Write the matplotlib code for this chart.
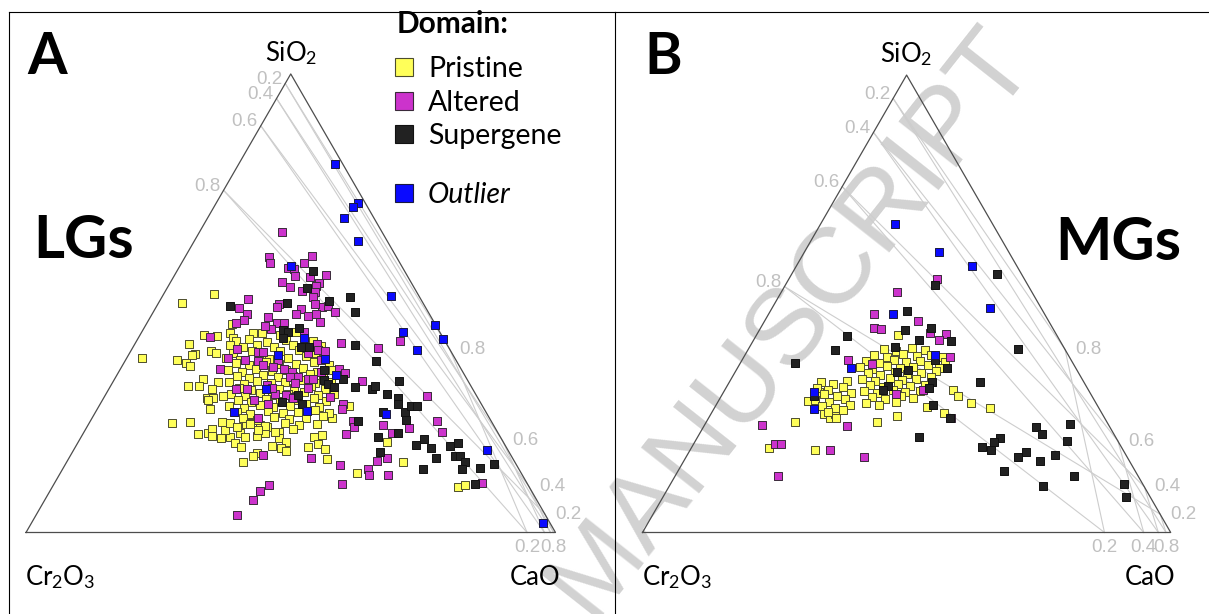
import numpy as np
import matplotlib
matplotlib.use("Agg")
import matplotlib.pyplot as plt
from matplotlib.lines import Line2D

# Positions in the scaled ternary (SiO2, CaO*6, Cr2O3*k), in % of the plotted triangle.
# Cr2O3 share = 100 - SiO2 - CaO.

# ---- A: LGs ----
lg_pristine_sio2 = [38.1, 50.0, 52.0, 23.9, 24.1, 21.5, 21.7, 22.6, 21.0, 20.6, 20.8, 19.5, 18.6, 21.7, 20.8, 17.3,
                    15.4, 37.6, 37.0, 36.3, 41.1, 38.9, 38.7, 39.6, 39.1, 43.1, 42.9, 45.5, 43.5, 42.4, 43.5, 33.5,
                    32.8, 31.9, 31.9, 31.3, 29.3, 29.3, 29.8, 28.9, 26.9, 21.9, 20.6, 19.7, 18.9, 18.4, 17.8, 20.8,
                    21.3, 18.6, 19.3, 18.2, 16.0, 25.0, 27.6, 13.0, 19.7, 15.4, 9.9, 10.4, 24.1, 22.4, 23.9, 23.0,
                    23.7, 25.6, 23.4, 23.0, 21.0, 21.7, 16.7,
                    43.5, 43.0, 43.7,
                    41.8, 42.2, 41.6, 42.0, 42.4, 41.7,
                    40.9, 40.4, 40.8, 40.5, 40.9, 40.3, 40.7,
                    39.2, 39.6, 39.0, 39.5, 39.9, 39.2,
                    38.1, 37.7, 38.4, 37.9, 38.1, 38.5, 37.8,
                    36.9, 36.5, 37.1, 36.7, 36.8, 37.2, 36.5,
                    35.4, 35.0, 35.6, 35.2, 35.4, 35.8, 35.1, 35.5,
                    34.1, 33.7, 34.3, 33.9, 34.1, 34.5, 33.8,
                    32.8, 32.4, 33.0, 32.6, 32.8, 33.3, 32.5, 32.9,
                    31.5, 31.1, 31.7, 31.3, 31.5, 31.9, 31.3,
                    30.2, 29.8, 30.4, 30.0, 30.2, 30.7, 29.9, 30.3,
                    28.9, 28.5, 29.1, 28.7, 28.9, 29.4, 28.7,
                    27.6, 27.2, 27.8, 27.4, 27.6, 28.0, 27.3,
                    26.3, 25.9, 26.5, 26.1, 26.3, 26.7, 26.0,
                    25.0, 24.6, 25.2, 24.8, 25.0, 25.4,
                    23.7, 23.2, 23.9, 23.4, 23.7,
                    22.4, 21.9, 22.6]
lg_pristine_cao = [2.9, 4.4, 9.5, 15.6, 18.9, 21.7, 23.5, 23.8, 24.6, 26.5, 28.1, 29.7, 31.3, 29.6, 30.9, 35.0,
                   33.3, 9.7, 11.7, 12.8, 10.2, 12.5, 12.0, 15.1, 16.3, 12.1, 14.6, 16.2, 16.8, 17.9, 21.1, 16.7,
                   19.9, 14.6, 16.7, 19.5, 19.5, 20.7, 22.3, 19.9, 21.3, 36.8, 37.5, 39.2, 37.0, 38.9, 40.2, 44.0,
                   45.3, 43.9, 45.5, 47.4, 48.8, 45.3, 47.2, 56.0, 58.3, 63.5, 76.6, 77.7, 25.0, 26.4, 26.6, 28.3,
                   29.7, 29.5, 32.5, 34.0, 33.1, 34.3, 34.5,
                   22.8, 26.4, 29.2,
                   18.7, 21.1, 24.7, 28.1, 31.3, 33.4,
                   18.0, 20.8, 23.3, 26.5, 29.9, 33.1, 35.4,
                   19.4, 22.8, 25.1, 28.3, 31.7, 34.9,
                   18.7, 21.6, 24.8, 27.0, 30.4, 33.6, 37.2,
                   21.3, 23.8, 26.8, 29.4, 32.5, 35.7, 38.9,
                   20.5, 23.3, 25.7, 28.8, 31.4, 34.4, 37.5, 40.3,
                   22.8, 25.3, 27.7, 30.7, 33.4, 36.4, 39.2,
                   21.9, 25.0, 27.2, 29.9, 32.5, 35.3, 38.4, 41.2,
                   24.5, 26.9, 29.6, 32.2, 34.9, 37.9, 40.9,
                   23.6, 26.4, 28.9, 31.5, 34.4, 37.2, 40.2, 43.1,
                   25.6, 28.2, 30.7, 33.7, 36.5, 39.6, 42.4,
                   24.5, 27.6, 30.2, 33.0, 36.1, 38.9, 41.7,
                   26.7, 29.3, 32.4, 35.4, 38.2, 41.2, 44.3,
                   28.5, 31.3, 34.3, 37.2, 40.4, 43.4,
                   30.5, 33.5, 36.9, 39.9, 43.1,
                   32.6, 36.0, 39.2]
lg_altered_sio2 = [65.5, 60.1, 58.8, 60.3, 58.8, 57.7, 57.5, 55.9, 55.7, 56.2, 54.6, 53.5, 54.4, 53.8, 52.7, 52.4,
                   51.4, 49.2, 49.4, 49.8, 48.1, 49.8, 49.2, 48.7, 47.6, 47.2, 47.6, 45.9, 47.0, 45.7, 45.7, 44.4,
                   43.7, 41.1, 39.8, 39.6, 39.1, 37.6, 41.3, 40.2, 35.0, 35.7, 34.8, 33.0, 33.5, 33.5, 31.5, 29.5,
                   29.5, 50.9, 49.0, 47.6, 46.3, 45.7, 45.0, 42.6, 38.1, 35.7, 40.0, 39.4, 39.4, 31.3, 31.3, 37.6,
                   35.7, 35.0, 33.9, 36.1, 33.9, 32.6, 30.2, 30.0, 25.0, 29.3, 28.0, 28.0, 26.9, 24.3, 23.0, 23.4,
                   21.7, 21.5, 16.9, 16.2, 14.7, 13.8, 12.5, 12.5, 10.6, 10.4, 9.1, 7.1, 3.8, 15.6, 16.2, 41.8,
                   29.8, 24.3, 22.8, 21.9, 10.8, 37.6, 37.4, 36.5, 32.2, 28.9, 31.5]
lg_altered_cao = [15.6, 15.9, 16.7, 23.9, 23.1, 20.6, 21.9, 22.8, 25.8, 28.6, 21.0, 23.1, 28.1, 27.9, 25.8, 28.4,
                  28.5, 31.3, 32.3, 29.7, 34.3, 22.9, 22.8, 27.6, 27.2, 29.7, 30.9, 32.6, 22.2, 24.6, 25.9, 24.1,
                  30.6, 34.4, 35.2, 36.7, 33.7, 36.9, 38.8, 46.4, 38.2, 41.3, 42.9, 46.9, 36.5, 37.5, 37.5, 42.6,
                  35.5, 16.5, 15.7, 17.9, 18.0, 16.8, 22.6, 13.4, 19.1, 18.8, 19.8, 24.1, 25.1, 24.0, 26.1, 28.8,
                  30.9, 32.7, 32.9, 28.6, 34.4, 34.5, 31.9, 34.1, 31.3, 35.8, 31.7, 45.9, 46.2, 49.6, 50.4, 55.7,
                  58.3, 49.7, 36.3, 45.7, 51.9, 57.7, 58.5, 62.1, 54.4, 40.7, 39.7, 39.3, 37.9, 58.5, 60.1, 49.8,
                  60.8, 65.5, 60.9, 67.6, 80.7, 22.6, 25.1, 26.5, 29.4, 28.6, 30.7]
lg_supergene_sio2 = [49.4, 57.0, 53.3, 50.5, 50.0, 51.4, 48.1, 44.2, 43.7, 44.6, 42.4, 40.5, 40.5, 40.9, 37.4,
                     35.4, 33.5, 33.3, 32.4, 31.7, 31.7, 31.3, 31.9, 30.2, 33.0, 30.0, 28.5, 28.0, 24.3, 26.3,
                     29.3, 28.0, 26.3, 24.5, 27.6, 27.6, 20.8, 21.7, 17.6, 20.4, 19.1, 18.4, 18.9, 19.5, 16.7,
                     16.7, 15.4, 16.2, 13.8, 13.8, 14.1, 14.9, 10.6]
lg_supergene_cao = [13.8, 25.7, 26.4, 32.0, 24.3, 35.5, 38.1, 26.5, 27.6, 29.3, 27.3, 31.7, 33.2, 41.7, 47.4,
                    38.6, 43.1, 39.7, 40.8, 42.3, 46.3, 49.7, 49.9, 53.1, 53.9, 36.4, 34.1, 38.1, 50.5, 54.3,
                    55.6, 56.2, 58.4, 59.5, 58.9, 60.1, 56.1, 59.4, 58.1, 65.0, 64.1, 67.3, 70.6, 71.8, 72.7,
                    73.6, 75.2, 69.3, 68.1, 75.4, 78.7, 80.9, 79.5]
lg_outlier_sio2 = [80.4, 71.9, 71.0, 68.6, 63.6, 51.6, 43.7, 39.8, 45.3, 42.2, 58.1,
                   42.4, 38.7, 37.8, 34.3, 31.3, 26.3, 26.5, 25.8, 18.0, 2.1]
lg_outlier_cao = [18.2, 26.8, 26.3, 25.8, 30.9, 43.1, 49.3, 53.9, 54.6, 57.7, 21.0,
                  31.3, 28.2, 37.6, 41.4, 29.7, 26.1, 39.8, 55.1, 78.1, 96.6]

# ---- B: MGs ----
mg_pristine_sio2 = [18.5, 18.0, 24.2, 28.7, 30.7, 25.9, 25.0, 25.9, 24.2, 25.5, 27.4, 26.1, 31.2, 29.8, 28.3, 27.2, 43.2,
                    40.1, 39.7, 40.3, 39.9,
                    38.8, 38.4, 39.0, 38.6, 38.8, 38.4,
                    37.5, 37.1, 37.7, 37.3, 37.5, 37.9, 37.2,
                    36.2, 35.8, 36.4, 36.0, 36.2, 36.6, 35.9,
                    34.9, 34.5, 35.1, 34.7, 34.9, 35.3,
                    33.6, 33.2, 33.8, 33.4, 33.6, 34.0,
                    32.2, 31.8, 32.4, 32.0, 32.2,
                    30.9, 30.5, 31.1, 30.7, 30.9,
                    29.6, 29.2, 29.8, 29.4,
                    28.3, 27.9, 28.5,
                    32.9, 32.5, 33.1, 31.6, 31.2, 31.8, 30.3, 29.9, 30.5,
                    29.0, 28.6, 29.2, 27.7, 27.3, 27.9, 26.3, 26.7, 25.0]
mg_pristine_cao = [14.7, 23.6, 16.8, 17.0, 18.1, 21.4, 23.0, 23.5, 32.3, 35.4, 40.1, 44.0, 43.2, 44.8, 48.0, 52.2, 26.8,
                   25.7, 28.1, 30.8, 33.6,
                   24.4, 27.1, 29.9, 32.6, 35.2, 37.5,
                   23.6, 26.2, 28.7, 31.3, 33.8, 36.4, 38.7,
                   23.1, 25.5, 28.0, 30.7, 33.1, 35.8, 38.2,
                   25.2, 27.7, 30.2, 32.8, 35.3, 37.9,
                   24.8, 27.4, 29.9, 32.5, 35.0, 37.6,
                   27.0, 29.6, 32.1, 34.7, 37.4,
                   26.5, 29.1, 31.8, 34.4, 37.1,
                   28.7, 31.3, 34.0, 36.6,
                   28.2, 30.8, 33.7,
                   17.3, 19.8, 22.1, 17.2, 19.5, 22.0, 19.2, 21.9, 24.3,
                   18.2, 21.0, 23.8, 20.1, 22.8, 25.4, 22.0, 24.6, 24.1]
mg_altered_sio2 = [55.4, 52.6, 47.8, 46.2, 44.7, 44.5, 43.4, 42.1, 43.6, 38.4, 37.7,
                   36.8, 31.2, 30.3, 25.0, 23.3, 23.5, 19.3, 19.3, 18.0, 16.5, 12.4]
mg_altered_cao = [28.0, 21.9, 19.9, 29.0, 21.5, 22.9, 35.8, 35.1, 32.6, 39.0, 20.1,
                  25.0, 37.5, 32.9, 45.9, 27.1, 10.9, 15.4, 16.5, 26.5, 33.7, 19.5]
mg_supergene_sio2 = [56.5, 54.1, 48.4, 44.7, 44.3, 43.0, 41.9, 39.9, 37.1, 40.6, 42.1, 32.9, 40.1, 36.0,
                     37.7, 35.1, 35.5, 32.9, 31.6, 32.0, 31.2, 29.8, 27.9, 25.0, 20.9, 23.1, 21.5, 23.7,
                     20.0, 20.7, 19.8, 18.7, 18.0, 17.6, 16.5, 16.9, 15.6, 13.4, 12.4, 10.2, 10.6, 7.8]
mg_supergene_cao = [38.9, 28.3, 25.9, 32.3, 27.6, 17.2, 37.5, 16.5, 10.3, 27.5, 31.3, 47.4, 51.0, 39.7,
                    36.5, 30.6, 32.5, 38.4, 38.4, 30.5, 30.0, 17.5, 41.1, 45.7, 41.9, 63.0, 64.9, 69.1,
                    70.4, 57.4, 56.7, 54.9, 57.0, 63.8, 62.8, 69.6, 67.4, 61.7, 75.5, 70.7, 85.9, 87.7]
mg_outlier_sio2 = [67.4, 61.3, 58.3, 49.1, 47.8, 38.8, 36.0, 30.7, 27.0]
mg_outlier_cao = [14.1, 25.5, 33.3, 41.3, 23.5, 36.0, 21.5, 17.1, 19.0]

TICKS = [0.2, 0.4, 0.6, 0.8]
BOTTOM_TICKS_A = [0.2, 0.8]
BOTTOM_TICKS_B = [0.2, 0.4, 0.8]
# component weights of the scaled ternary: SiO2, CaO, Cr2O3
WEIGHTS_A = (1.0, 6.0, 0.085)
WEIGHTS_B = (1.0, 6.0, 0.215)
DOMAINS = ['Pristine', 'Altered', 'Supergene', 'Outlier']

FIG_W, FIG_H = 1209, 614
BASE = 532.5
H3 = np.sqrt(3) / 2

plt.rcParams['font.family'] = ['Lato', 'DejaVu Sans']
plt.rcParams['mathtext.fontset'] = 'custom'
plt.rcParams['mathtext.rm'] = 'Lato'
plt.rcParams['mathtext.it'] = 'Lato:italic'
plt.rcParams['mathtext.bf'] = 'Lato:bold'

STYLES = {
    'Pristine': ('#ffff59', '#4d4d2e'),
    'Altered': ('#cc33cc', '#3a2a3a'),
    'Supergene': ('#222222', '#111111'),
    'Outlier': ('#0a0aff', '#1a1a40'),
}
panel_a = {'Pristine': (lg_pristine_sio2, lg_pristine_cao), 'Altered': (lg_altered_sio2, lg_altered_cao),
           'Supergene': (lg_supergene_sio2, lg_supergene_cao), 'Outlier': (lg_outlier_sio2, lg_outlier_cao)}
panel_b = {'Pristine': (mg_pristine_sio2, mg_pristine_cao), 'Altered': (mg_altered_sio2, mg_altered_cao),
           'Supergene': (mg_supergene_sio2, mg_supergene_cao), 'Outlier': (mg_outlier_sio2, mg_outlier_cao)}


def tern(sio2, cao, cr, w):
    # composition -> triangle coordinates through the scaled ternary
    s, c, r = sio2 * w[0], cao * w[1], cr * w[2]
    tot = s + c + r
    return c / tot + s / tot / 2, s / tot * H3


def make_axes(left_px, right_px, lx, side):
    top_px, bottom_px = 12, 614
    ax = fig.add_axes([left_px / FIG_W, 1 - bottom_px / FIG_H,
                       (right_px - left_px) / FIG_W, (bottom_px - top_px) / FIG_H])
    ax.set_xlim((left_px - lx) / side, (right_px - lx) / side)
    ax.set_ylim(-(bottom_px - BASE) / side, (BASE - top_px) / side)
    ax.set_xticks([])
    ax.set_yticks([])
    ax.patch.set_visible(False)
    for sp in ax.spines.values():
        sp.set_linewidth(0.8)
    return ax


def draw_panel(ax, side, w, bottom_ticks, series):
    px = 1 / side
    ax.plot([0, 1, 0.5, 0], [0, 0, H3, 0], color='#4d4d4d', lw=0.9, zorder=3)
    tick_kw = dict(color='#c0c0c0', fontsize=13.5, family=['Liberation Sans', 'DejaVu Sans'])
    for v in TICKS:
        for p, q in [((1 - v, 0, v), (0, 1 - v, v)),
                     ((v, 1 - v, 0), (v, 0, 1 - v)),
                     ((1 - v, v, 0), (0, v, 1 - v))]:
            x0, y0 = tern(*p, w)
            x1, y1 = tern(*q, w)
            ax.plot([x0, x1], [y0, y1], color='#cdcdcd', lw=0.8, zorder=1)
        x, y = tern(1 - v, 0, v, w)
        ax.text(x - 3 * px, y + 4 * px, f'{v:.1f}', ha='right', va='center', **tick_kw)
        x, y = tern(v, 1 - v, 0, w)
        ax.text(x + 10 * px, y, f'{v:.1f}', ha='left', va='center', **tick_kw)
    for v in bottom_ticks:
        x, y = tern(0, v, 1 - v, w)
        ax.text(x, y - 7 * px, f'{v:.1f}', ha='center', va='top', **tick_kw)
    for key in DOMAINS:
        sio2 = np.asarray(series[key][0], float)
        cao = np.asarray(series[key][1], float)
        fc, ec = STYLES[key]
        ax.scatter(cao / 100 + sio2 / 200, sio2 / 100 * H3, marker='s', s=28,
                   c=fc, edgecolors=ec, linewidths=0.7, zorder=4)
    lab = dict(fontsize=18.5, color='black')
    ax.text(0.5, H3 + 21 * px, 'SiO$_2$', ha='center', va='center', **lab)
    ax.text(-1 * px, -45 * px, 'Cr$_2$O$_3$', ha='left', va='center', **lab)
    ax.text(1 + 5 * px, -45 * px, 'CaO', ha='right', va='center', **lab)


fig = plt.figure(figsize=(FIG_W / 100, FIG_H / 100), dpi=100)
fig.patch.set_facecolor('white')

fig.text(790 / FIG_W, 1 - 322 / FIG_H, 'MANUSCRIPT', rotation=51.7, ha='center', va='center',
         fontsize=78, color='#d2d2d2', family=['Liberation Sans'], zorder=-1)

ax_a = make_axes(9, 615, 26.0, 529.5)
ax_a.spines['bottom'].set_visible(False)
ax_b = make_axes(615, 1209, 642.5, 528.2)
for s in ['bottom', 'left', 'right']:
    ax_b.spines[s].set_visible(False)

draw_panel(ax_a, 529.5, WEIGHTS_A, BOTTOM_TICKS_A, panel_a)
draw_panel(ax_b, 528.2, WEIGHTS_B, BOTTOM_TICKS_B, panel_b)

big = dict(fontsize=41, fontweight='bold', ha='left', va='baseline')
fig.text(27 / FIG_W, 1 - 74 / FIG_H, 'A', **big)
fig.text(644 / FIG_W, 1 - 74 / FIG_H, 'B', **big)
fig.text(33 / FIG_W, 1 - 258 / FIG_H, 'LGs', fontsize=43, fontweight='bold', ha='left', va='baseline')
fig.text(1055 / FIG_W, 1 - 260 / FIG_H, 'MGs', fontsize=43, fontweight='bold', ha='left', va='baseline')
fig.text(397 / FIG_W, 1 - 24 / FIG_H, 'Domain:', fontsize=21.5, fontweight='bold', ha='left', va='center')


def handle(key):
    fc, ec = STYLES[key]
    return Line2D([], [], ls='', marker='s', markersize=13, mfc=fc, mec=ec, mew=0.8)


leg_kw = dict(loc='upper left', bbox_transform=fig.transFigure, frameon=False, borderpad=0,
              borderaxespad=0, handlelength=0.56, handletextpad=0.56, labelspacing=0.27,
              prop={'size': 20.5})
leg1 = ax_a.legend([handle(k) for k in DOMAINS[:3]], DOMAINS[:3],
                   bbox_to_anchor=(396 / FIG_W, 1 - 56 / FIG_H), **leg_kw)
ax_a.add_artist(leg1)
leg2 = ax_a.legend([handle(DOMAINS[3])], DOMAINS[3:], bbox_to_anchor=(396 / FIG_W, 1 - 182 / FIG_H), **leg_kw)
leg2.get_texts()[0].set_style('italic')

fig.savefig('out.png', dpi=100)
